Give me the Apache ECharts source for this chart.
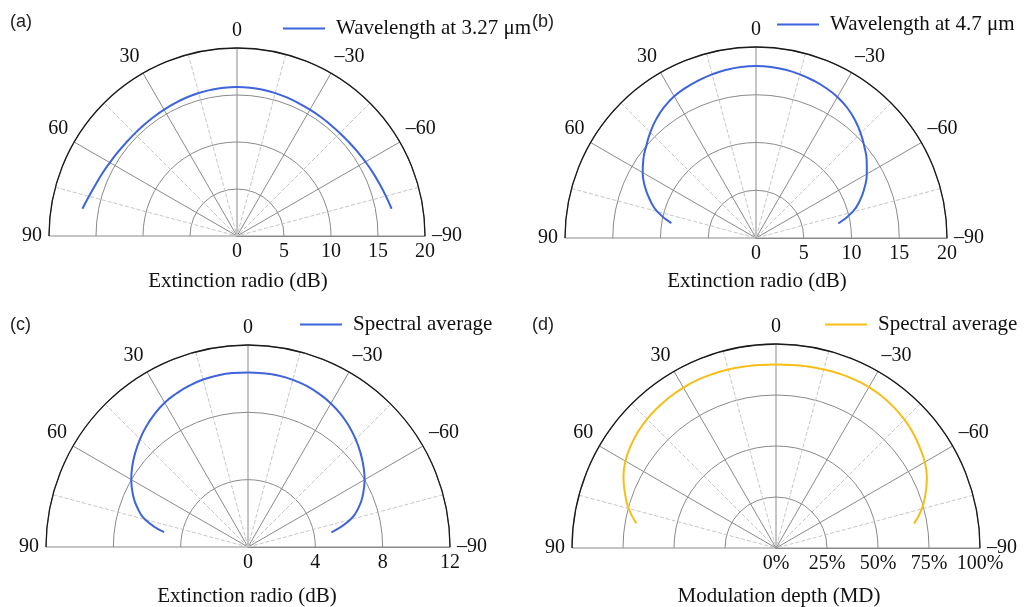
<!DOCTYPE html>
<html><head><meta charset="utf-8">
<script src="https://cdn.jsdelivr.net/npm/echarts@6/dist/echarts.min.js"></script>
<style>html,body{margin:0;padding:0;background:#fff}#c{width:1024px;height:607px}</style>
</head><body><div id="c"></div>
<script>
// Incidence angles (degrees)
const angles = [-80,-75,-70,-65,-60,-55,-50,-45,-40,-35,-30,-25,-20,-15,-10,-5,0,5,10,15,20,25,30,35,40,45,50,55,60,65,70,75,80];
// (a) Extinction ratio (dB), wavelength 3.27 um
const erA = [16.7,16.4,16.15,15.95,15.78,15.64,15.54,15.48,15.46,15.48,15.52,15.58,15.66,15.74,15.8,15.84,15.85,15.84,15.8,15.75,15.68,15.6,15.52,15.46,15.42,15.4,15.42,15.5,15.62,15.8,16.0,16.3,16.7];
// (b) Extinction ratio (dB), wavelength 4.7 um
const erB = [8.75,10.45,11.6,12.55,13.4,14.15,14.82,15.5,16.12,16.65,17.05,17.33,17.55,17.73,17.88,17.97,18.0,17.97,17.88,17.74,17.57,17.37,17.13,16.75,16.25,15.65,15.0,14.4,13.7,12.85,11.85,10.7,9.0];
// (c) Extinction ratio (dB), spectral average
const erC = [5.03,6.3,7.02,7.55,8.0,8.37,8.72,9.05,9.35,9.62,9.85,10.03,10.18,10.28,10.34,10.36,10.37,10.37,10.35,10.3,10.2,10.06,9.9,9.66,9.38,9.07,8.74,8.39,8.01,7.56,7.03,6.33,5.06];
// (d) Modulation depth (%), spectral average
const mdD = [68.7,74.0,78.0,81.6,84.2,86.0,87.7,89.0,90.0,90.7,91.1,91.1,90.9,90.6,90.3,90.1,90.0,90.1,90.3,90.6,90.8,90.9,90.8,90.5,90.0,89.4,88.4,87.0,85.2,82.5,78.8,74.8,69.5];

const seriesNames = ['Wavelength at 3.27 \u03bcm', 'Wavelength at 4.7 \u03bcm', 'Spectral average (c)', 'Spectral average (d)'];
const legendLabels = ['Wavelength at 3.27 \u03bcm', 'Wavelength at 4.7 \u03bcm', 'Spectral average', 'Spectral average'];
const panelLetters = ['(a)', '(b)', '(c)', '(d)'];
const axisNames = ['Extinction radio (dB)', 'Extinction radio (dB)', 'Extinction radio (dB)', 'Modulation depth (MD)'];
const radiusMax = [20, 20, 12, 100];
const radiusStep = [5, 5, 4, 25];
const radiusUnit = ['', '', '', '%'];
const angleTicks = { min: -90, max: 90, step: 30 };
const values = [erA, erB, erC, mdD];

const colors = ['#3d63dd', '#3d63dd', '#3d63dd', '#f7be16'];
const layout = [
  { center: [237, 236], radius: 188, legend: [283, 18], letter: [10, 22], name: [238, 281] },
  { center: [756, 238], radius: 191, legend: [777, 14], letter: [532, 22], name: [757, 281] },
  { center: [248, 547], radius: 202, legend: [300, 314], letter: [10, 325], name: [247, 596] },
  { center: [776, 548], radius: 204, legend: [825, 314], letter: [532, 325], name: [779, 596] }
];
const SERIF = 'Liberation Serif';
const dash = v => (v < 0 ? '\u2013' + (-v) : String(v));

const option = {
  animation: false,
  backgroundColor: '#fff',
  textStyle: { fontFamily: SERIF },
  polar: layout.map(l => ({ center: l.center, radius: l.radius })),
  angleAxis: layout.map((l, i) => ({
    polarIndex: i, type: 'value', min: angleTicks.min, max: angleTicks.max, interval: angleTicks.step,
    startAngle: 0, endAngle: 180, clockwise: false,
    axisLine: { show: true, lineStyle: { color: '#1a1a1a', width: 1.3 } },
    axisTick: { show: false },
    axisLabel: { formatter: dash, fontSize: 20, color: '#111', margin: 7, fontFamily: SERIF },
    splitLine: { show: true, lineStyle: { color: '#8a8a8a', width: 1 } },
    minorTick: { show: false, splitNumber: 2 },
    minorSplitLine: { show: true, lineStyle: { color: '#c6c6c6', type: 'dashed', width: 1 } }
  })),
  radiusAxis: layout.map((l, i) => ({
    polarIndex: i, type: 'value', min: 0, max: radiusMax[i], interval: radiusStep[i],
    axisLine: { show: true, lineStyle: { color: '#8a8a8a', width: 1 } },
    axisTick: { show: false },
    axisLabel: { fontSize: 20, color: '#111', margin: -26, fontFamily: SERIF, formatter: v => v + radiusUnit[i] },
    splitLine: { show: true, lineStyle: { color: '#8a8a8a', width: 1 } }
  })),
  legend: layout.map((l, i) => ({
    data: [seriesNames[i]], left: l.legend[0], top: l.legend[1], padding: 0,
    itemWidth: 42, itemHeight: 2, selectedMode: false,
    icon: 'path://M0,0 L42,0 L42,2 L0,2 Z',
    formatter: () => legendLabels[i],
    textStyle: { fontSize: 21, color: '#111', fontFamily: SERIF, padding: [0, 0, 0, 6] }
  })),
  series: values.map((vals, i) => ({
    type: 'line', coordinateSystem: 'polar', polarIndex: i, name: seriesNames[i],
    data: angles.map((a, k) => [vals[k], a]),
    symbol: 'none', smooth: true, z: 5,
    lineStyle: { color: colors[i], width: 2 }, itemStyle: { color: colors[i] }
  })),
  graphic: layout.flatMap((l, i) => ([
    { type: 'text', x: l.letter[0], y: l.letter[1], style: { text: panelLetters[i], font: '18px "Liberation Sans"', fill: '#222', verticalAlign: 'middle', align: 'left' } },
    { type: 'text', x: l.name[0], y: l.name[1], style: { text: axisNames[i], font: '21px "Liberation Serif"', fill: '#111', verticalAlign: 'middle', align: 'center' } }
  ]))
};
const chart = echarts.init(document.getElementById('c'), null, { renderer: 'canvas' });
chart.setOption(option);
</script></body></html>
